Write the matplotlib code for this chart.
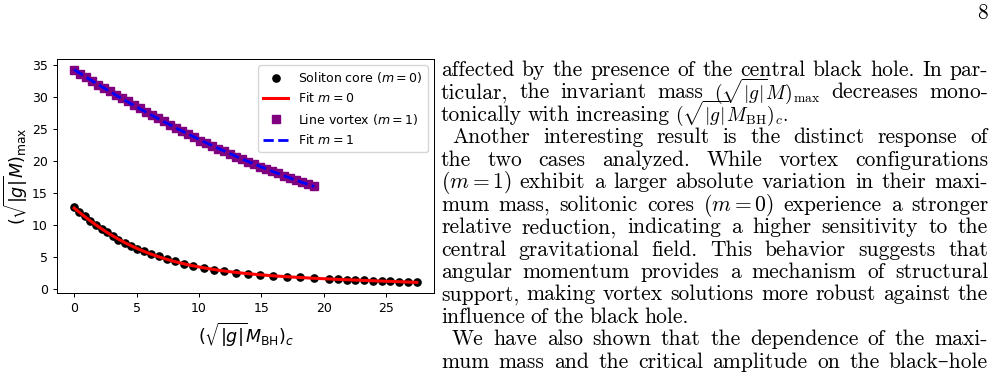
## Load Libraries
import numpy as np
import matplotlib
matplotlib.use('Agg')
import matplotlib.pyplot as plt

## Data
# Soliton core (m = 0)
x_m0 = [0.00, 0.37, 0.86, 1.29, 1.75, 2.20, 2.63, 3.11, 3.55, 4.06,
        4.54, 5.05, 5.59, 6.18, 6.77, 7.42, 8.11, 8.81, 9.50, 10.37,
        11.18, 12.04, 12.97, 13.92, 14.89, 15.96, 17.03, 18.10, 19.24, 20.44,
        21.13, 21.83, 22.52, 23.23, 23.92, 24.62, 25.33, 26.05, 26.75, 27.45]
y_m0 = [12.75, 12.08, 11.35, 10.67, 10.00, 9.35, 8.85, 8.30, 7.75, 7.20,
        6.74, 6.30, 5.88, 5.52, 5.17, 4.75, 4.36, 4.00, 3.65, 3.28,
        3.00, 2.76, 2.58, 2.42, 2.27, 2.10, 1.96, 1.82, 1.71, 1.60,
        1.52, 1.46, 1.41, 1.36, 1.31, 1.26, 1.21, 1.16, 1.11, 1.06]

# Line vortex (m = 1)
x_m1 = [0.00, 0.48, 0.96, 1.44, 1.92, 2.40, 2.89, 3.37, 3.85, 4.33,
        4.81, 5.29, 5.77, 6.25, 6.73, 7.21, 7.70, 8.18, 8.66, 9.14,
        9.62, 10.10, 10.58, 11.06, 11.54, 12.02, 12.50, 12.99, 13.47, 13.95,
        14.43, 14.91, 15.39, 15.87, 16.35, 16.83, 17.31, 17.80, 18.28, 18.76,
        19.24]
y_m1 = [34.16, 33.59, 33.07, 32.44, 31.87, 31.40, 30.88, 30.31, 29.84, 29.32,
        28.80, 28.28, 27.70, 27.18, 26.66, 26.19, 25.67, 25.15, 24.63, 24.22,
        23.69, 23.17, 22.76, 22.29, 21.87, 21.51, 21.09, 20.69, 20.30, 19.91,
        19.52, 19.15, 18.78, 18.42, 18.06, 17.71, 17.37, 17.03, 16.69, 16.36,
        16.04]

labels = ['Soliton core ($m=0$)', 'Fit $m=0$', 'Line vortex ($m=1$)', 'Fit $m=1$']

## Page text next to the figure (one entry per printed line)
page_lines = [
    'affected by the presence of the central black hole. In par-',
    r'ticular, the invariant mass $(\sqrt{|g|}M)_{\mathrm{max}}$ decreases mono-',
    r'tonically with increasing $(\sqrt{|g|}M_{\mathrm{BH}})_c$.',
    'Another interesting result is the distinct response of',
    'the two cases analyzed.  While vortex configurations',
    '$(m=1)$ exhibit a larger absolute variation in their maxi-',
    'mum mass, solitonic cores $(m=0)$ experience a stronger',
    'relative reduction, indicating a higher sensitivity to the',
    'central gravitational field.  This behavior suggests that',
    'angular momentum provides a mechanism of structural',
    'support, making vortex solutions more robust against the',
    'influence of the black hole.',
    'We have also shown that the dependence of the maxi-',
    'mum mass and the critical amplitude on the black\u2013hole',
]
line_indent = [0, 0, 0, 1, 0, 0, 0, 0, 0, 0, 0, 0, 1, 0]
line_justify = [1, 1, 0, 1, 1, 1, 1, 1, 1, 1, 1, 0, 1, 1]

W, H = 997, 376
fig = plt.figure(figsize=(W / 100, H / 100), dpi=100)

## The chart
ax = fig.add_axes([57 / W, 1 - 293 / H, 377 / W, 234 / H])

x0 = np.array(x_m0)
y0 = np.array(y_m0)
x1 = np.array(x_m1)
y1 = np.array(y_m1)

# least squares fits of the points
p0 = np.polyfit(x0, np.log(y0), 5)
xf0 = np.linspace(x0.min(), x0.max(), 300)
p1 = np.polyfit(x1, y1, 2)
xf1 = np.linspace(x1.min(), x1.max(), 300)

ax.plot(x0, y0, 'o', color='black', markersize=5.2, label=labels[0])
ax.plot(xf0, np.exp(np.polyval(p0, xf0)), '-', color='red', lw=2.2, label=labels[1])
ax.plot(x1, y1, 's', color='purple', markersize=5.2, label=labels[2])
ax.plot(xf1, np.polyval(p1, xf1), '--', color='blue', lw=2.0, label=labels[3])

ax.set_xticks([0, 5, 10, 15, 20, 25])
ax.set_yticks([0, 5, 10, 15, 20, 25, 30, 35])
ax.tick_params(labelsize=9, length=3.2, width=0.72)
for sp in ax.spines.values():
    sp.set_linewidth(0.72)

ax.set_xlabel(r'$(\sqrt{|g|}M_{\mathrm{BH}})_c$', fontsize=12.6)
ax.set_ylabel(r'$(\sqrt{|g|}M)_{\mathrm{max}}$', fontsize=12.6, labelpad=1)
ax.legend(loc='upper right', fontsize=9)

## The text column, justified word by word
renderer = fig.canvas.get_renderer()
txt_kw = dict(family=['cmr10', 'DejaVu Serif'], math_fontfamily='cm', color='black')
body_size, math_size = 15.5, 14.0

x_left, x_right, x_indent = 441, 988, 452
y_first, y_step = 76, 22.45

for i, line in enumerate(page_lines):
    y_px = y_first + i * y_step
    start = x_indent if line_indent[i] else x_left
    words = line.split()
    texts = []
    for w in words:
        size = math_size if '\\sqrt' in w else body_size
        texts.append(fig.text(0, 1 - y_px / H, w, va='baseline', ha='left',
                              fontsize=size, **txt_kw))
    widths = [t.get_window_extent(renderer).width for t in texts]
    if line_justify[i] and len(words) > 1:
        gap = (x_right - start - sum(widths)) / (len(words) - 1)
    else:
        gap = 5.5
    x = start
    for t, w in zip(texts, widths):
        t.set_x(x / W)
        x += w + gap

# page number
fig.text(988 / W, 1 - 19 / H, '8', ha='right', va='baseline', fontsize=body_size, **txt_kw)

fig.savefig('out.png', dpi=100)
